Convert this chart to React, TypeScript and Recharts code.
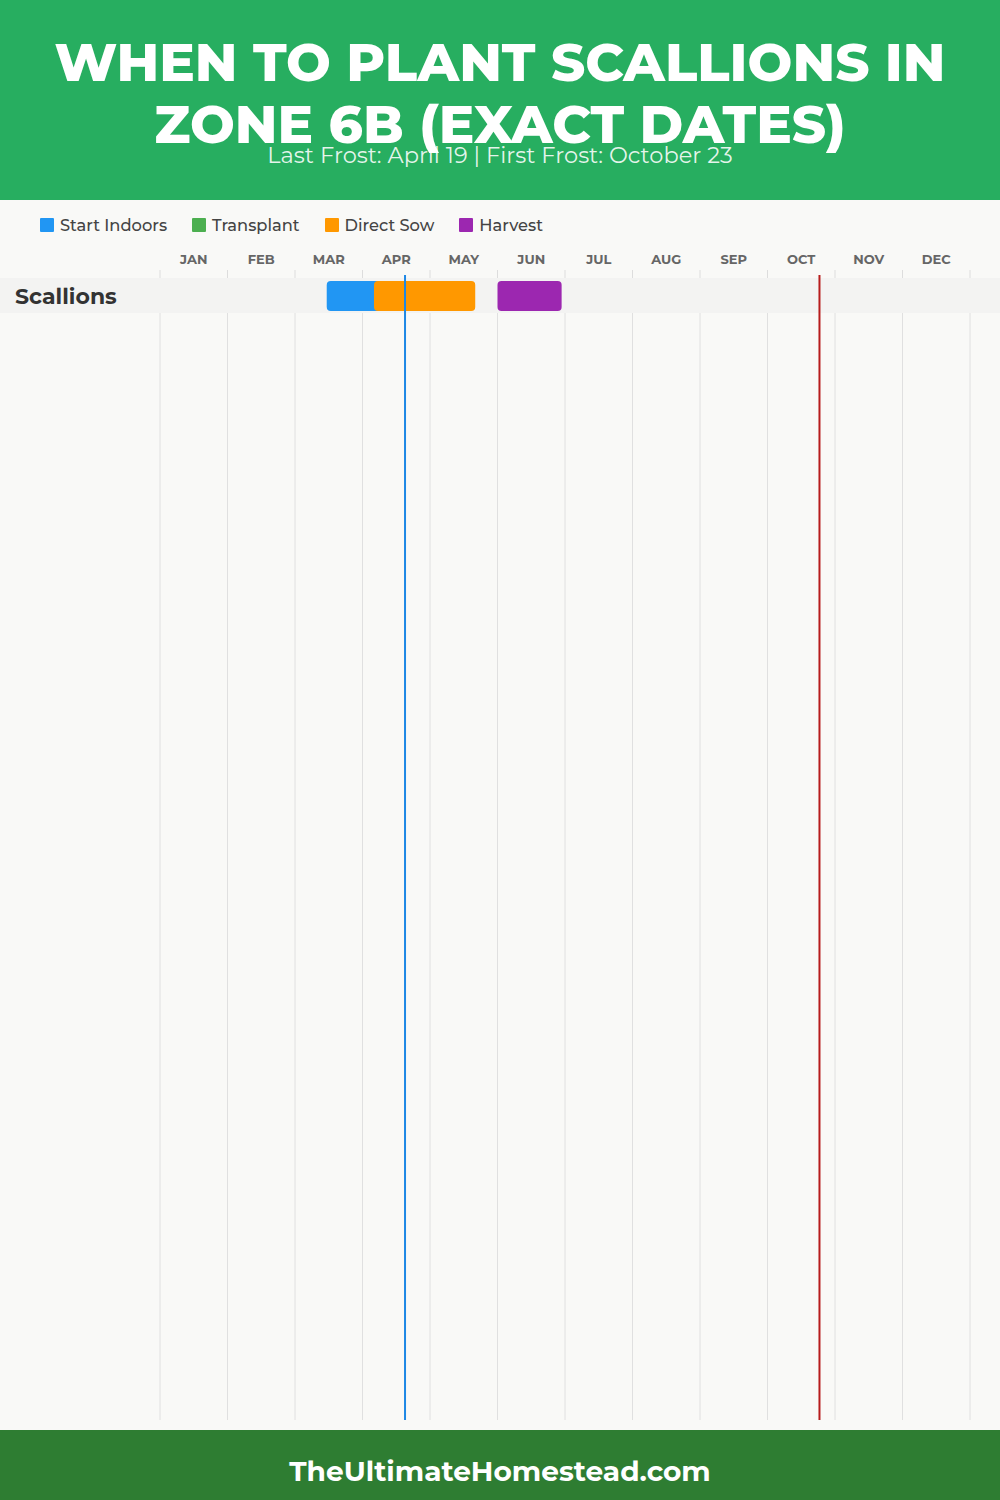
import { BarChart, Bar, XAxis, YAxis, CartesianGrid, ReferenceLine, ReferenceArea } from 'recharts';

document.body.style.margin = '0';

// month units: 0 = Jan 1, 12 = Dec 31
const MONTHS = ['JAN', 'FEB', 'MAR', 'APR', 'MAY', 'JUN', 'JUL', 'AUG', 'SEP', 'OCT', 'NOV', 'DEC'];
const MONTH_TICKS = [0, 1, 2, 3, 4, 5, 6, 7, 8, 9, 10, 11, 12];
const CROPS = ['Scallions'];
const START_INDOORS = [[2.47, 3.3]];
const DIRECT_SOW = [[3.17, 4.67]];
const HARVEST = [[5.0, 5.95]];
const LAST_FROST = 3.63;
const FIRST_FROST = 9.77;

const COLORS = {
    indoors: '#2196F3',
    transplant: '#4CAF50',
    sow: '#FF9800',
    harvest: '#9C27B0'
};

const LEGEND = [
    { label: 'Start Indoors', color: COLORS.indoors },
    { label: 'Transplant', color: COLORS.transplant },
    { label: 'Direct Sow', color: COLORS.sow },
    { label: 'Harvest', color: COLORS.harvest }
];

const WIDTH = 1000;
const LEFT = 160;
const RIGHT = 30;
const MONTH_PX = (WIDTH - LEFT - RIGHT) / 12;
const FONT = 'Montserrat, "Open Sans", sans-serif';

const data = CROPS.map((name, i) => ({
    name,
    indoors: START_INDOORS[i],
    sow: DIRECT_SOW[i],
    harvest: HARVEST[i]
}));

const MonthTick = (props: any) => {
    const { x, y, payload } = props;
    if (payload.value >= 12) return <g />;
    return (
        <text x={x + MONTH_PX / 2} y={y - 4} textAnchor="middle" fill="#666" fontSize={13} fontWeight={700} fontFamily={FONT}>
            {MONTHS[payload.value]}
        </text>
    );
};

const CropTick = (props: any) => {
    const { y, payload } = props;
    return (
        <text x={15} y={y} dy={8} textAnchor="start" fill="#333" fontSize={22} fontWeight={700} fontFamily={FONT}>
            {payload.value}
        </text>
    );
};

const FrostLine = (color: string) => (props: any) => (
    <line x1={props.x1} x2={props.x2} y1={props.y1 - 3} y2={props.y2} stroke={color} strokeWidth={2} />
);

export default function App() {
    return (
        <div style={{ width: WIDTH, fontFamily: FONT }}>
            {/* header */}
            <div style={{ position: 'relative', height: 200, background: '#27AE60', color: '#fff', textAlign: 'center' }}>
                <div style={{
                    paddingTop: 31,
                    fontSize: 53,
                    lineHeight: '62px',
                    fontWeight: 800
                }}>
                    WHEN TO PLANT SCALLIONS IN<br />ZONE 6B (EXACT DATES)
                </div>
                <div style={{
                    position: 'absolute',
                    top: 141,
                    left: 0,
                    right: 0,
                    fontSize: 22.5,
                    color: 'rgba(255,255,255,0.88)'
                }}>
                    Last Frost: April 19 | First Frost: October 23
                </div>
            </div>

            {/* chart */}
            <div style={{ position: 'relative', height: 1230, background: '#F9F9F7' }}>
                <div style={{
                    position: 'absolute',
                    top: 15,
                    left: 40,
                    display: 'flex',
                    gap: 25,
                    fontSize: 16.3,
                    fontWeight: 500,
                    color: '#444'
                }}>
                    {LEGEND.map(item => (
                        <div key={item.label} style={{ display: 'flex', alignItems: 'center', gap: 6 }}>
                            <div style={{ width: 14, height: 14, background: item.color, borderRadius: 1 }} />
                            <span>{item.label}</span>
                        </div>
                    ))}
                </div>
                <BarChart
                    width={WIDTH}
                    height={1230}
                    data={data}
                    layout="vertical"
                    margin={{ top: 48, right: RIGHT, left: 0, bottom: 10 }}
                    barGap={-30}
                    barSize={30}
                >
                    <CartesianGrid horizontal={false} stroke="#E0E0E0" />
                    <XAxis
                        type="number"
                        orientation="top"
                        domain={[0, 12]}
                        ticks={MONTH_TICKS}
                        interval={0}
                        height={30}
                        axisLine={false}
                        tickLine={{ stroke: '#DDD' }}
                        tickSize={8}
                        tick={<MonthTick />}
                    />
                    <YAxis
                        type="category"
                        dataKey="name"
                        width={LEFT}
                        axisLine={false}
                        tickLine={false}
                        padding={{ top: 0, bottom: 1107 }}
                        tick={<CropTick />}
                    />
                    <ReferenceArea
                        y1="Scallions"
                        y2="Scallions"
                        shape={(p: any) => <rect x={0} y={p.y} width={WIDTH} height={p.height} fill="#F3F3F2" />}
                    />
                    <Bar dataKey="indoors" fill={COLORS.indoors} radius={4} isAnimationActive={false} />
                    <Bar dataKey="sow" fill={COLORS.sow} radius={4} isAnimationActive={false} />
                    <Bar dataKey="harvest" fill={COLORS.harvest} radius={4} isAnimationActive={false} />
                    <ReferenceLine x={LAST_FROST} shape={FrostLine('#1E88E5')} />
                    <ReferenceLine x={FIRST_FROST} shape={FrostLine('#B71C1C')} />
                </BarChart>
            </div>

            {/* footer */}
            <div style={{
                height: 70,
                background: '#2E7D32',
                color: '#fff',
                fontSize: 28,
                fontWeight: 700,
                textAlign: 'center',
                lineHeight: '82px'
            }}>
                TheUltimateHomestead.com
            </div>
        </div>
    );
}
